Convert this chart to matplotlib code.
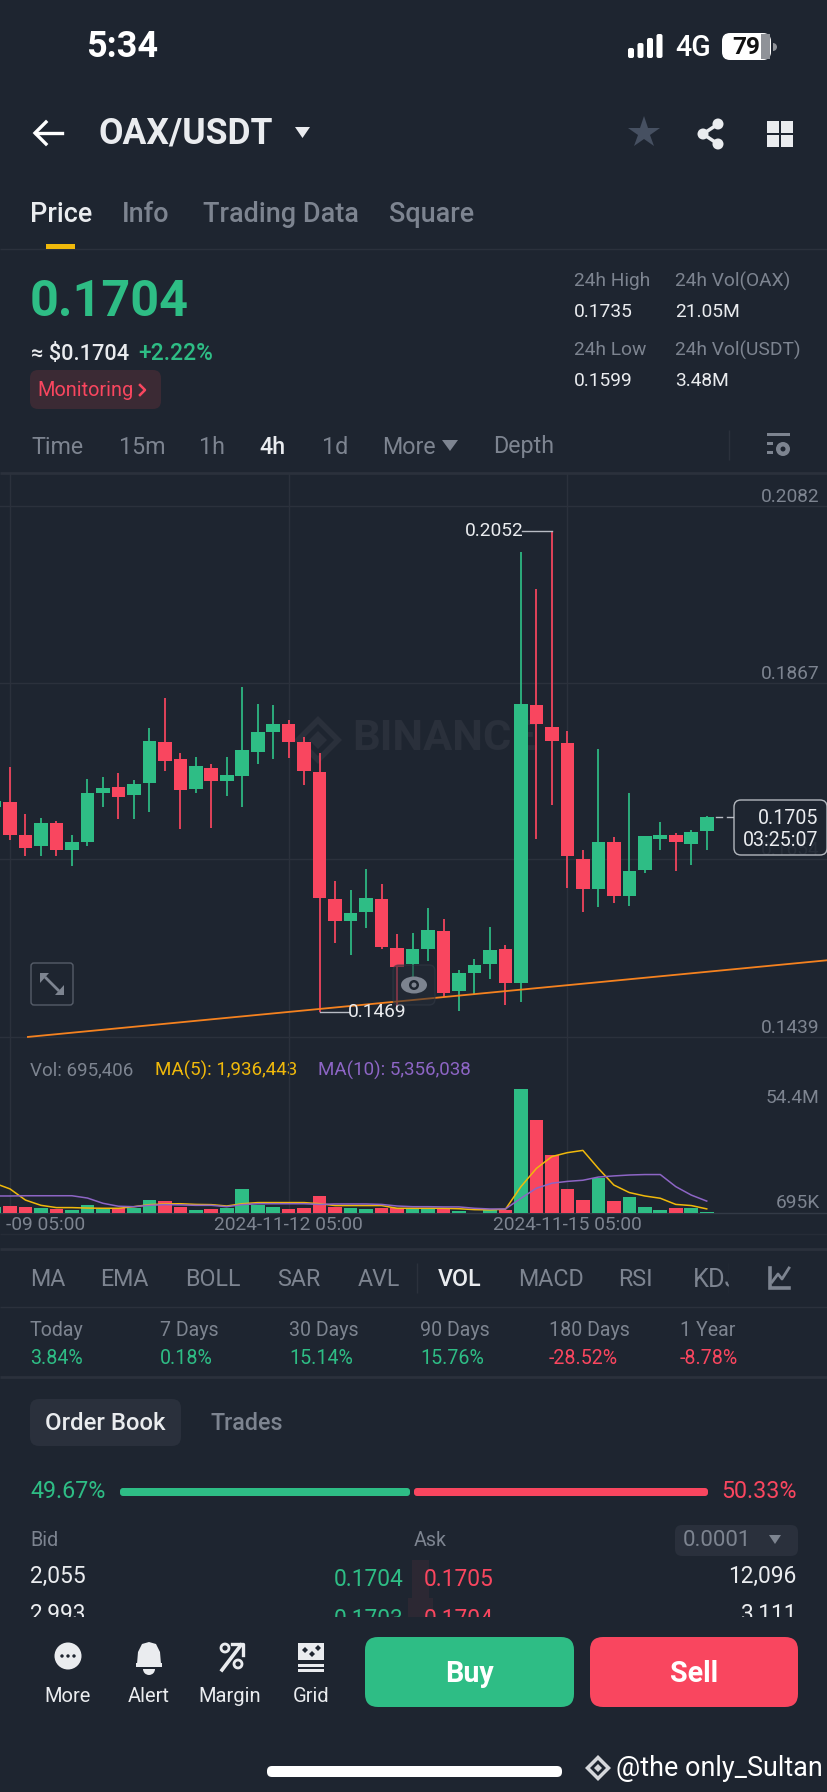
import matplotlib
matplotlib.use('Agg')
import matplotlib.pyplot as plt
import numpy as np
from matplotlib.patches import FancyBboxPatch, Rectangle, Circle, Polygon, Wedge, Ellipse
from matplotlib.ticker import FixedLocator, FixedFormatter, FormatStrFormatter

plt.rcParams['font.family'] = ['Roboto', 'DejaVu Sans']

# ---------- data ----------
candle_index = list(range(-1, 46))
opens = [.1717,.1723,.1683,.1670,.1698,.1666,.1675,.1734,.1742,.1732,.1747,.1796,.1776,.1739,.1765,.1749,
         .1755,.1784,.1808,.1818,.1796,.1760,.1606,.1580,.1590,.1606,.1547,.1528,.1545,.1567,.1495,.1517,
         .1527,.1545,.1504,.1841,.1814,.1795,.1655,.1618,.1675,.1610,.1641,.1679,.1683,.1673,.1688]
closes = [.1725,.1683,.1668,.1698,.1666,.1675,.1735,.1740,.1730,.1745,.1797,.1773,.1738,.1767,.1749,.1756,
          .1787,.1808,.1818,.1796,.1761,.1607,.1580,.1589,.1607,.1548,.1524,.1546,.1568,.1492,.1516,.1526,
          .1544,.1504,.1842,.1818,.1797,.1658,.1618,.1675,.1610,.1640,.1682,.1683,.1675,.1687,.1705]
highs = [.1731,.1766,.1709,.1704,.1700,.1683,.1751,.1754,.1759,.1750,.1813,.1849,.1783,.1778,.1770,.1778,
         .1863,.1842,.1841,.1823,.1802,.1783,.1628,.1617,.1642,.1624,.1564,.1565,.1595,.1582,.1520,.1534,
         .1572,.1550,.2026,.1981,.2052,.1810,.1666,.1788,.1681,.1735,.1682,.1699,.1686,.1690,.1707]
lows = [.1711,.1677,.1658,.1658,.1658,.1646,.1670,.1717,.1703,.1703,.1712,.1761,.1691,.1735,.1692,.1731,
        .1717,.1770,.1775,.1777,.1744,.1469,.1553,.1538,.1571,.1545,.1477,.1503,.1531,.1487,.1470,.1491,
        .1509,.1478,.1481,.1679,.1720,.1620,.1590,.1596,.1601,.1598,.1637,.1666,.1640,.1647,.1666]
volumes = [2.6,3.1,2.8,2.5,1.8,1.6,3.7,1.9,2.2,2.5,5.8,5.3,2.9,1.5,2.0,2.2,10.7,3.8,2.9,2.0,2.5,7.5,2.6,2.5,
           1.9,2.5,2.3,1.9,2.2,1.9,1.0,0.3,1.3,1.6,54.4,40.8,25.6,10.5,6.0,15.4,5.3,7.2,2.9,1.5,2.5,2.5,0.695]
ma5 = [13.2,10.7,5.8,3.5,2.5,2.5,2.3,2.2,2.2,2.9,3.8,4.1,4.2,3.9,3.8,3.2,4.2,4.7,4.7,4.7,4.7,4.2,3.4,3.4,3.4,
       3.4,2.2,2.2,2.2,2.2,2.0,1.6,1.5,1.8,11.7,19.7,24.9,26.6,27.6,19.7,12.4,9.1,7.6,6.6,3.9,3.4,1.936]
ma10 = [7.6,7.6,7.7,7.7,7.7,7.7,6.7,4.4,3.1,2.9,3.5,3.8,3.7,3.5,3.5,2.9,3.8,4.2,4.2,4.2,4.2,3.9,4.1,4.1,4.1,
        3.9,3.2,2.9,2.9,2.8,2.8,2.2,1.9,1.9,6.6,11.0,13.2,14.0,14.5,15.9,16.4,16.8,17.0,17.0,11.7,8.0,5.356]
price_ticks = [.2082,.1867,.1654,.1439]
vol_ticks = [54.4,0.695]
vol_tick_labels = ['54.4M','695K']
date_ticks = [18,36]
date_labels = ['2024-11-12 05:00','2024-11-15 05:00']
trend_x = [1.1,52.83]
trend_y = [.1439,.1532]
last_price = .1705
tabs = ['Price','Info','Trading Data','Square']
frames = ['Time','15m','1h','4h','1d','More','Depth']
indicators = ['MA','EMA','BOLL','SAR','AVL','VOL','MACD','RSI','KDJ']
perf_names = ['Today','7 Days','30 Days','90 Days','180 Days','1 Year']
perf_vals = ['3.84%','0.18%','15.14%','15.76%','-28.52%','-8.78%']

# ---------- style ----------
BG='#1E2530'; GRID='#2B313C'; GREEN='#2EBD85'; RED='#F9465F'; WHITE='#EAECEF'; GRAY='#7D8490'
W,H=828,1792
FS=1.06
fig=plt.figure(figsize=(W/100,H/100),dpi=100,facecolor=BG)

def pix_axes(z):
    a=fig.add_axes([0,0,1,1],zorder=z); a.set_xlim(0,W); a.set_ylim(H,0); a.axis('off'); a.patch.set_alpha(0); return a
ui=pix_axes(0); top=pix_axes(5)
def T(x,y,s,px=22,c=WHITE,ha='left',w='normal',a=None,z=3,**k):
    return (a or ui).text(x,y,s,fontsize=px*.72*FS,color=c,ha=ha,va='center',fontweight=w,zorder=z,**k)
def rbox(x0,y0,x1,y1,r,fc,ec='none',lw=0,a=None,z=1,alpha=None):
    (a or ui).add_patch(FancyBboxPatch((x0+r,y0+r),x1-x0-2*r,y1-y0-2*r,boxstyle=f'round,pad={r},rounding_size={r}',fc=fc,ec=ec,lw=lw,zorder=z,alpha=alpha))
def hl(y,x0=0,x1=W,c=GRID,lw=1.5): ui.plot([x0,x1],[y,y],color=c,lw=lw,solid_capstyle='butt')
def vl(x,y0,y1,c=GRID,lw=1): ui.plot([x,x],[y0,y1],color=c,lw=lw,solid_capstyle='butt')
def diamond(cx,cy,s,fc,z=1):
    ui.add_patch(Polygon([(cx-s,cy),(cx,cy-s),(cx+s,cy),(cx,cy+s)],fc=fc,ec='none',zorder=z))

# ---------- chart geometry ----------
STEP=15.483; X0=10.0
PPU=8260.0; Y_TOP=505.9
xlim=(-X0/STEP,(W-X0)/STEP)
def axes_rect(y0,y1): return [0,1-y1/H,1,(y1-y0)/H]
ax=fig.add_axes(axes_rect(473,1040),zorder=2); ax.patch.set_alpha(0)
ax.set_xlim(*xlim); ax.set_ylim(.2082-(1040-Y_TOP)/PPU,.2082+(Y_TOP-473)/PPU)
vax=fig.add_axes(axes_rect(1040,1213.3),zorder=2); vax.patch.set_alpha(0)
VSCALE=54.4/124
vax.set_xlim(*xlim); vax.set_ylim(0,(1213.3-1040)*VSCALE)
for a in (ax,vax):
    for s in a.spines.values(): s.set_visible(False)
vax.spines['bottom'].set_visible(True); vax.spines['bottom'].set_color('#333A46'); vax.spines['bottom'].set_linewidth(1)

# price axis
ax.set_axisbelow(True)
ax.xaxis.set_major_locator(FixedLocator([0]+date_ticks)); ax.tick_params(axis='x',length=0,labelbottom=False)
ax.yaxis.tick_right(); ax.yaxis.set_major_locator(FixedLocator(price_ticks))
ax.yaxis.set_major_formatter(FormatStrFormatter('%.4f'))
ax.tick_params(axis='y',length=0,pad=-6,labelsize=18*.72*FS,labelcolor=GRAY)
for l in ax.get_yticklabels(): l.set_ha('right'); l.set_va('bottom')
ax.grid(True,color=GRID,lw=1)

# candles
idx=np.array(candle_index); o=np.array(opens); c=np.array(closes); hi=np.array(highs); lo=np.array(lows)
colors=[GREEN if cc>=oo else RED for oo,cc in zip(o,c)]
BW=13.6/STEP
ax.vlines(idx,lo,hi,colors=colors,lw=1.25,zorder=3)
ax.bar(idx,np.abs(c-o),bottom=np.minimum(o,c),width=BW,color=colors,lw=0,zorder=4)
ax.plot(trend_x,trend_y,color='#F5821F',lw=1.3,zorder=5,solid_capstyle='butt')
# extreme labels
ax.plot([20,20+1.9],[min(lows)]*2,color='#B8BCC4',lw=1,zorder=6)
ax.text(21.85,min(lows),f'{min(lows):.4f}',fontsize=18*.72*FS,color=WHITE,va='center',ha='left',zorder=6)
ax.plot([35,35-1.9],[max(highs)]*2,color='#B8BCC4',lw=1,zorder=6)
ax.text(33.15,max(highs),f'{max(highs):.4f}',fontsize=18*.72*FS,color=WHITE,va='center',ha='right',zorder=6)
ax.plot([45.6,46.0],[last_price]*2,color='#B8BCC4',lw=1,zorder=6)
ax.plot([46.3,46.7],[last_price]*2,color='#B8BCC4',lw=1,zorder=6)

# volume
vax.set_axisbelow(True)
vax.xaxis.set_major_locator(FixedLocator([0]+date_ticks)); vax.tick_params(axis='x',length=0,labelbottom=False)
vax.xaxis.grid(True,color=GRID,lw=1)
vax.yaxis.tick_right(); vax.yaxis.set_major_locator(FixedLocator(vol_ticks))
vax.yaxis.set_major_formatter(FixedFormatter(vol_tick_labels))
vax.tick_params(axis='y',length=0,pad=-6,labelsize=18*.72*FS,labelcolor=GRAY)
ls=vax.get_yticklabels()
for l in ls: l.set_ha('right')
ls[0].set_va('top'); ls[1].set_va('bottom')
vax.bar(idx,volumes,width=BW,color=colors,lw=0,zorder=3)
vax.plot(idx,ma5,color='#F0B90B',lw=1.1,zorder=4)
vax.plot(idx,ma10,color='#8D65C5',lw=1.1,zorder=5)
T(30,1070,'Vol: 695,406',17.7,GRAY); T(155,1070,'MA(5): 1,936,443',17.7,'#F0B90B'); T(318,1070,'MA(10): 5,356,038',17.7,'#8D65C5')
T(85,1225,'-09 05:00',18,GRAY,ha='right')
for t,l in zip(date_ticks,date_labels): T(X0+t*STEP,1225,l,18,GRAY,ha='center')
hl(1234,lw=1,c='#262C37'); hl(1249,lw=2)

# watermark
diamond(318,740,24,'#2A303B'); diamond(318,740,16,BG,z=1.1); diamond(318,740,9,'#2A303B',z=1.2)
T(352,739,'BINANCE',41,'#2A303B',w='bold',z=1)

# overlay on chart
rbox(734,800,827,855,7,BG,ec='#C8CCD2',lw=1,a=top,alpha=.88)
T(818,819,f'{last_price:.4f}',18.5,WHITE,ha='right',a=top); T(818,840,'03:25:07',18.5,WHITE,ha='right',a=top)
rbox(31,963,73,1005,3,'none',ec='#565D69',lw=1,a=top)
top.plot([46,58],[978,990],color=GRAY,lw=2)
top.add_patch(Polygon([(40,973),(49,973),(40,983)],fc=GRAY,zorder=3)); top.add_patch(Polygon([(64,995),(55,995),(64,985)],fc=GRAY,zorder=3))
rbox(393,965,435,1005,6,'#252B36',ec='#343B47',lw=1,a=top,alpha=.55)
top.add_patch(Ellipse((414,985),26,17,fc=GRAY,ec='none',zorder=3))
top.add_patch(Circle((414,985),5,fc=BG,zorder=4)); top.add_patch(Circle((414,985),2.5,fc=GRAY,zorder=5))

# ---------- status + header ----------
T(122,47,'5:34',34,'#FFFFFF',ha='center',w='bold')
for i,h in enumerate([10,15,20,24]):
    rbox(628+i*9.5,58-h,634+i*9.5,58,2,'#FFFFFF')
T(693,48,'4G',27,'#FFFFFF',ha='center',w='medium')
rbox(722,33,771,60,8,'#FFFFFF'); ui.add_patch(Rectangle((761,34),9,25,fc='#8F9298',zorder=2))
T(746,47,'79',23,'#111111',ha='center',w='bold')
ui.add_patch(Wedge((773,47),4,-90,90,fc='#8F9298',zorder=1))
ui.plot([36,62],[133,133],color='#FFFFFF',lw=2.4); ui.plot([46,35,46],[122,133,144],color='#FFFFFF',lw=2.4,solid_joinstyle='miter')
T(99,134,'OAX/USDT',33.5,WHITE,w='bold')
ui.add_patch(Polygon([(295,127),(310,127),(302.5,138)],fc=WHITE,zorder=3))
ui.plot([644],[133],marker='*',ms=24,color='#465061',mew=0)
for p in [(718,124),(703,134),(718,144)]:
    ui.add_patch(Circle(p,5.5,fc=WHITE,zorder=3))
ui.plot([718,703,718],[124,134,144],color=WHITE,lw=2.5)
for x in (767,781):
    for y in (121,135):
        ui.add_patch(Rectangle((x,y),12,12,fc=WHITE,zorder=3))
for x,s,col in zip([30,122,203,389],tabs,[WHITE,GRAY,GRAY,GRAY]):
    T(x,215,s,25.5,col,w='medium')
ui.add_patch(Rectangle((46,244),29,5,fc='#F0B90B',zorder=3)); hl(249,lw=1)

# ---------- price block ----------
T(30,303,'0.1704',47.5,GREEN,w='bold')
T(31,354,'≈ $0.1704',20.5,WHITE,w='medium'); T(138,354,'+2.22%',21.5,GREEN,w='medium')
rbox(30,370,161,409,8,'#3B2A34'); T(37,390,'Monitoring',18.8,RED); ui.plot([140,145,140],[385,390,395],color=RED,lw=1.8)
for x,s in [(574,'24h High'),(675,'24h Vol(OAX)')]: T(x,281,s,18,GRAY)
for x,s in [(574,'24h Low'),(675,'24h Vol(USDT)')]: T(x,350,s,18,GRAY)
for x,s in [(574,'0.1735'),(675,'21.05M')]: T(x,312,s,18,WHITE)
for x,s in [(574,'0.1599'),(675,'3.48M')]: T(x,381,s,18,WHITE)

# ---------- time frames ----------
for x,s in zip([31,119,199,259,322,382,493],frames):
    T(x,447,s,22,WHITE if s=='4h' else GRAY,w='medium' if s=='4h' else 'normal')
ui.add_patch(Polygon([(442,440),(458,440),(450,451)],fc=GRAY,zorder=3))
vl(729,430,460)
ui.add_patch(Rectangle((767,433),23,3,fc=GRAY,zorder=3)); ui.add_patch(Rectangle((767,442),6,3,fc=GRAY,zorder=3)); ui.add_patch(Rectangle((767,451),6,3,fc=GRAY,zorder=3))
ui.add_patch(Circle((783,449),7,fc=GRAY,zorder=3)); ui.add_patch(Circle((783,449),2.5,fc=BG,zorder=4))
hl(473,lw=2)

# ---------- indicators ----------
for x,s,sz in zip([30,100,185,277,358,438,518,618,693],indicators,[22]*8+[24]):
    T(x,1280,s,sz,WHITE if s=='VOL' else GRAY,w='medium' if s=='VOL' else 'normal',z=2)
ui.add_patch(Rectangle((729,1262),36,36,fc=BG,zorder=2.5))
vl(417,1263,1293); vl(729,1263,1293)
ui.plot([770,770,789],[1268,1288,1288],color=GRAY,lw=2.6,solid_joinstyle='miter'); ui.plot([772,778,782,789],[1282,1274,1279,1268],color=GRAY,lw=2)
hl(1307,lw=1)
for x,n,v in zip([30,160,289,420,549,680],perf_names,perf_vals):
    T(x,1331,n,18.5,GRAY); T(x,1358,v,18.5,RED if v.startswith('-') else GREEN)
hl(1377,lw=2)

# ---------- order book ----------
rbox(30,1399,181,1446,9,'#2A303C'); T(45,1423,'Order Book',22.5,WHITE,w='medium'); T(211,1423,'Trades',22,GRAY,w='medium')
T(30,1492,'49.67%',22,GREEN); T(797,1492,'50.33%',22,RED,ha='right')
rbox(120,1488,410,1496,3,GREEN); rbox(414,1488,708,1496,3,RED)
T(30,1541,'Bid',18.5,GRAY); T(414,1541,'Ask',18.5,GRAY)
rbox(675,1525,798,1556,7,'#2A303C'); T(683,1541,'0.0001',21,GRAY); ui.add_patch(Polygon([(769,1535),(781,1535),(775,1544)],fc=GRAY,zorder=3))
ui.add_patch(Rectangle((412,1560),17,38,fc='#2C2833',zorder=1)); ui.add_patch(Rectangle((408,1598),25,20,fc='#2C2833',zorder=1))
T(30,1576,'2,055',21.5,WHITE); T(404,1579,'0.1704',21.5,GREEN,ha='right'); T(424,1579,'0.1705',21.5,RED); T(797,1576,'12,096',21.5,WHITE,ha='right')
T(30,1614,'2,993',21.5,WHITE); T(404,1620,'0.1703',21.5,GREEN,ha='right'); T(424,1620,'0.1704',21.5,RED); T(797,1614,'3,111',21.5,WHITE,ha='right')
ui.add_patch(Rectangle((0,1617),W,175,fc=BG,zorder=4))

# ---------- bottom bar ----------
for x,s in zip([68,149,230,311],['More','Alert','Margin','Grid']): T(x,1696,s,19,WHITE,ha='center',z=5)
ui.add_patch(Circle((68,1656),13.5,fc=WHITE,zorder=5))
for dx in (-6,0,6): ui.add_patch(Circle((68+dx,1656),1.7,fc=BG,zorder=6))
ui.add_patch(Polygon([(137,1664),(138,1652),(142,1644),(149,1642),(156,1644),(160,1652),(161,1664)],fc=WHITE,zorder=5))
ui.add_patch(Rectangle((136,1663),26,4,fc=WHITE,zorder=5)); ui.add_patch(Wedge((149,1669),6,0,180,fc=WHITE,zorder=5))
ui.add_patch(Circle((225,1648),4,fc='none',ec=WHITE,lw=2,zorder=5)); ui.add_patch(Circle((238,1664),4,fc='none',ec=WHITE,lw=2,zorder=5))
ui.plot([222,241],[1670,1645],color=WHITE,lw=2.6,zorder=5); ui.plot([232,243,243],[1644,1644,1655],color=WHITE,lw=2.4,zorder=5)
ui.add_patch(Rectangle((298,1643),26,17,fc=WHITE,zorder=5)); ui.add_patch(Rectangle((298,1664),26,3,fc=WHITE,zorder=5)); ui.add_patch(Rectangle((298,1669),26,3,fc=WHITE,zorder=5))
for p in [(305,1650),(312,1654),(318,1648)]:
    diamond(p[0],p[1],3,BG,z=6)
rbox(365,1637,574,1707,13,GREEN,z=5); rbox(590,1637,798,1707,13,RED,z=5)
T(470,1674,'Buy',27,'#FFFFFF',ha='center',w='bold',z=6); T(694,1674,'Sell',27,'#FFFFFF',ha='center',w='bold',z=6)
rbox(267,1766,562,1777,5,'#FFFFFF',z=5)
diamond(598,1768,13,'#D5D7DB',z=6); diamond(598,1768,8,BG,z=6.1); diamond(598,1768,4,'#D5D7DB',z=6.2)
T(616,1768,'@the only_Sultan',25.5,'#FFFFFF',z=6)

fig.savefig('out.png',dpi=100,facecolor=BG)
